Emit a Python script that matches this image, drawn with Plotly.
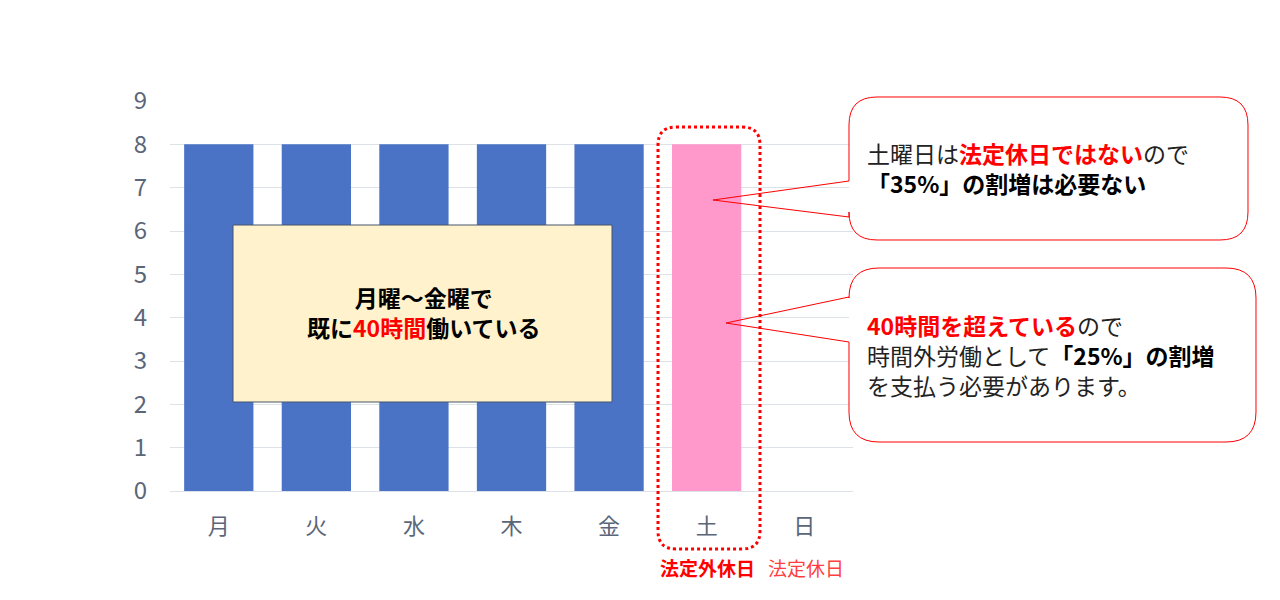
import plotly.graph_objects as go

# data
days = ['月', '火', '水', '木', '金', '土', '日']
hours = [8, 8, 8, 8, 8, 8, 0]
bar_colors = ['#4a73c6'] * 5 + ['#ff99cc', '#ff99cc']
y_ticks = list(range(0, 10))

# plot area in pixels of the 1280x600 screenshot (page body has an 8px margin)
L, R, T, B = 170, 853, 101, 491
W, H = 1264, 584
FONT = 'Noto Sans CJK JP'
RED = '#ff0000'


def px(x):
    return (x - L) / (R - L)


def py(y):
    return (B - y) / (B - T)


def rr_path(x0, y0, x1, y1, r, notch=None):
    # rounded rectangle in pixel coords, optional pointer on the left edge
    pts = [('M', x0 + r, y0), ('L', x1 - r, y0), ('Q', x1, y0, x1, y0 + r),
           ('L', x1, y1 - r), ('Q', x1, y1, x1 - r, y1), ('L', x0 + r, y1),
           ('Q', x0, y1, x0, y1 - r)]
    if notch:
        (ya, yb), (tx, ty) = notch
        pts += [('L', x0, yb), ('L', tx, ty), ('L', x0, ya)]
    pts += [('L', x0, y0 + r), ('Q', x0, y0, x0 + r, y0), ('Z',)]
    out = []
    for p in pts:
        s = p[0]
        coords = p[1:]
        for i in range(0, len(coords), 2):
            s += ' %.5f,%.5f' % (px(coords[i]), py(coords[i + 1]))
        out.append(s)
    return ' '.join(out)


fig = go.Figure()
fig.add_trace(go.Bar(x=days, y=hours, marker=dict(color=bar_colors, line=dict(width=0)),
                     width=0.71, hoverinfo='skip'))

shapes = []
# yellow note over weekday bars
shapes.append(dict(type='rect', xref='paper', yref='paper',
                   x0=px(233), x1=px(612), y0=py(402), y1=py(225),
                   fillcolor='#fff2cc', line=dict(color='#44546a', width=1)))
# dotted frame around Saturday
shapes.append(dict(type='path', xref='paper', yref='paper',
                   path=rr_path(658, 127, 760, 549, 18),
                   line=dict(color=RED, width=3, dash='dot')))
# callout boxes
for box, notch in [((849, 97, 1248, 240, 28), ((181, 217), (713, 200))),
                   ((849, 268, 1256, 442, 30), ((297, 342), (726, 323)))]:
    shapes.append(dict(type='path', xref='paper', yref='paper',
                       path=rr_path(*box), fillcolor='white', line=dict(width=0)))
    shapes.append(dict(type='path', xref='paper', yref='paper',
                       path=rr_path(*box, notch=notch),
                       line=dict(color=RED, width=1)))

annotations = []


def note(x, y, text, size=23, color='#000000', anchor='left'):
    annotations.append(dict(xref='paper', yref='paper', x=px(x), y=py(y), text=text,
                            showarrow=False, xanchor=anchor, yanchor='middle',
                            align=anchor if anchor != 'center' else 'center',
                            borderpad=0,
                            font=dict(family=FONT, size=size, color=color)))


r = lambda s: '<span style="color:#ff0000"><b>%s</b></span>' % s
g = lambda s: '<span style="color:#222222">%s</span>' % s
note(423, 312, '<b>月曜～金曜で</b><br><b>既に</b>' + r('40時間') + '<b>働いている</b>',
     anchor='center')
note(866, 168, g('土曜日は') + r('法定休日ではない') + g('ので') +
     '<br><b>「35%」の割増は必要ない</b>')
note(866, 355, r('40時間を超えている') + g('ので') + '<br>' +
     g('時間外労働として') + '<b>「25%」の割増</b><br>' + g('を支払う必要があります。'))
note(707, 567, '<b>法定外休日</b>', size=19, color=RED, anchor='center')
note(806, 567, '法定休日', size=19, color='#ff4040', anchor='center')

fig.update_layout(
    width=W, height=H,
    margin=dict(l=L - 8, r=W - (R - 8), t=T - 8, b=H - (B - 8)),
    plot_bgcolor='white', paper_bgcolor='white',
    showlegend=False, bargap=0.29,
    shapes=shapes, annotations=annotations,
    font=dict(family=FONT, color='#5b6678'),
)
fig.update_xaxes(showgrid=False, showline=False, ticks='', ticklabelstandoff=20,
                 tickfont=dict(family=FONT, size=22, color='#5b6678'))
fig.update_yaxes(range=[0, 9], tickvals=y_ticks, showgrid=True, gridcolor='#dde1e8',
                 gridwidth=1, zeroline=True, zerolinecolor='#dde1e8', zerolinewidth=1,
                 ticks='', ticklabelstandoff=22,
                 tickfont=dict(family=FONT, size=24, color='#5b6678'))

fig.write_html('out.html')
